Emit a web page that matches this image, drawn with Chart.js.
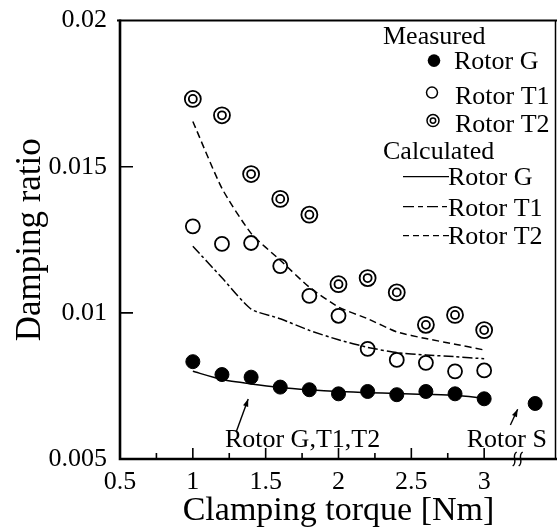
<!DOCTYPE html>
<html>
<head>
<meta charset="utf-8">
<script src="https://cdn.jsdelivr.net/npm/chart.js@4.4.1/dist/chart.umd.min.js"></script>
<style>
  html, body { margin: 0; padding: 0; background: #fff; }
  #wrap { width: 557px; height: 531px; }
</style>
</head>
<body>
<div id="wrap"><canvas id="myChart" width="557" height="531"></canvas></div>
<script>
/** DATA **/
const torque = [1.0, 1.2, 1.4, 1.6, 1.8, 2.0, 2.2, 2.4, 2.6, 2.8, 3.0];
const measuredG  = [0.00833, 0.00789, 0.00780, 0.00746, 0.00737, 0.00723, 0.00731, 0.00720, 0.00731, 0.00723, 0.00706];
const measuredT1 = [0.01296, 0.01236, 0.01239, 0.01160, 0.01058, 0.00990, 0.00877, 0.00839, 0.00829, 0.00800, 0.00803];
const measuredT2 = [0.01732, 0.01676, 0.01475, 0.01390, 0.01336, 0.01098, 0.01119, 0.01070, 0.00959, 0.00993, 0.00941];
const calcG  = [0.00800, 0.00772, 0.00757, 0.00745, 0.00737, 0.00731, 0.00727, 0.00724, 0.00721, 0.00718, 0.00708];
const calcT1 = [0.01228, 0.01120, 0.01013, 0.00980, 0.00940, 0.00908, 0.00882, 0.00864, 0.00856, 0.00850, 0.00843];
const calcT2 = [0.01655, 0.01426, 0.01272, 0.01180, 0.01088, 0.01020, 0.00980, 0.00935, 0.00912, 0.00893, 0.00873];
const rotorSTorque = [3.35];
const rotorSDamping = [0.0069];
const xMajor = [1, 1.5, 2, 2.5, 3];
const xMinor = [0.75, 1.25, 1.75, 2.25, 2.75];
const yMajor = [0.01, 0.015];

const serif = "'Liberation Serif', 'Times New Roman', serif";
const pts = (xs, ys) => xs.map((x, i) => ({ x: x, y: ys[i] }));

const dashT1 = [10, 3, 3, 3];
const dashT2 = [7, 4];

/** DECOR: axes box, inward ticks, legend, notes **/
const decor = {
  id: 'decor',
  afterDraw(chart) {
    const ctx = chart.ctx;
    const a = chart.chartArea;
    const xs = chart.scales.x, ys = chart.scales.y;
    ctx.save();
    ctx.strokeStyle = '#000';
    ctx.fillStyle = '#000';
    ctx.lineCap = 'butt';

    // box
    ctx.lineWidth = 2.6;
    ctx.beginPath();
    ctx.moveTo(a.left, a.top - 1); ctx.lineTo(a.left, a.bottom);
    ctx.lineTo(a.right, a.bottom);
    ctx.stroke();
    ctx.lineWidth = 2;
    ctx.beginPath();
    ctx.moveTo(a.left - 3, a.top); ctx.lineTo(a.right, a.top);
    ctx.stroke();
    ctx.lineWidth = 1.5;
    ctx.beginPath();
    ctx.moveTo(a.right - 1.5, a.top); ctx.lineTo(a.right - 1.5, a.bottom);
    ctx.stroke();

    // ticks
    ctx.lineWidth = 1.6;
    ctx.beginPath();
    xMajor.forEach(v => { const p = xs.getPixelForValue(v); ctx.moveTo(p, a.bottom); ctx.lineTo(p, a.bottom - 11); });
    xMinor.forEach(v => { const p = xs.getPixelForValue(v); ctx.moveTo(p, a.bottom); ctx.lineTo(p, a.bottom - 6); });
    yMajor.forEach(v => { const p = ys.getPixelForValue(v); ctx.moveTo(a.left, p); ctx.lineTo(a.left + 13, p); });
    ctx.stroke();

    // axis break
    const bx = xs.getPixelForValue(3.23);
    ctx.lineWidth = 1.4;
    [-3, 3].forEach(d => {
      ctx.beginPath();
      ctx.moveTo(bx + d + 2, a.bottom - 7);
      ctx.bezierCurveTo(bx + d - 4, a.bottom - 3, bx + d + 4, a.bottom + 3, bx + d - 2, a.bottom + 7);
      ctx.stroke();
    });

    // legend
    const lx = a.right - 174, ly = a.top;
    ctx.font = '26px ' + serif;
    ctx.textBaseline = 'alphabetic';
    ctx.textAlign = 'left';
    ctx.fillText('Measured', lx, ly + 23);
    ctx.beginPath(); ctx.arc(lx + 51, ly + 40, 6.3, 0, Math.PI * 2); ctx.fill();
    ctx.fillText('Rotor G', lx + 71, ly + 48);
    ctx.lineWidth = 1.5;
    ctx.beginPath(); ctx.arc(lx + 49, ly + 72, 5.5, 0, Math.PI * 2); ctx.stroke();
    ctx.fillText('Rotor T1', lx + 72, ly + 83);
    ctx.beginPath(); ctx.arc(lx + 50, ly + 100, 6, 0, Math.PI * 2); ctx.stroke();
    ctx.beginPath(); ctx.arc(lx + 50, ly + 100, 2.7, 0, Math.PI * 2); ctx.stroke();
    ctx.fillText('Rotor T2', lx + 72, ly + 111);
    ctx.fillText('Calculated', lx, ly + 138);
    const legLine = (y, dash) => {
      ctx.setLineDash(dash);
      ctx.beginPath(); ctx.moveTo(lx + 20, y); ctx.lineTo(lx + 66, y); ctx.stroke();
      ctx.setLineDash([]);
    };
    ctx.lineWidth = 1.3;
    legLine(ly + 156, []);
    ctx.fillText('Rotor G', lx + 65, ly + 164);
    legLine(ly + 186, [11, 4, 5, 4]);
    ctx.fillText('Rotor T1', lx + 65, ly + 195);
    legLine(ly + 215, [6, 4]);
    ctx.fillText('Rotor T2', lx + 65, ly + 223);

    // notes with arrows
    const arrow = (x1, y1, x2, y2) => {
      ctx.lineWidth = 1.4;
      ctx.beginPath(); ctx.moveTo(x1, y1); ctx.lineTo(x2, y2); ctx.stroke();
      const ang = Math.atan2(y2 - y1, x2 - x1);
      ctx.beginPath();
      ctx.moveTo(x2, y2);
      ctx.lineTo(x2 - 8 * Math.cos(ang - 0.35), y2 - 8 * Math.sin(ang - 0.35));
      ctx.lineTo(x2 - 8 * Math.cos(ang + 0.35), y2 - 8 * Math.sin(ang + 0.35));
      ctx.closePath(); ctx.fill();
    };
    ctx.fillText('Rotor G,T1,T2', xs.getPixelForValue(1.22), a.bottom - 12);
    arrow(xs.getPixelForValue(1.3), a.bottom - 28, xs.getPixelForValue(1.38), ys.getPixelForValue(0.00705));
    ctx.fillText('Rotor S', xs.getPixelForValue(2.88), a.bottom - 12);
    arrow(xs.getPixelForValue(3.18), a.bottom - 34, xs.getPixelForValue(3.23), ys.getPixelForValue(0.0067));
    ctx.restore();
  }
};

const data = {
  datasets: [
    {
      label: 'Measured Rotor G',
      data: pts(torque, measuredG).concat(pts(rotorSTorque, rotorSDamping)),
      pointRadius: 7,
      backgroundColor: '#000',
      borderColor: '#000',
      showLine: false
    },
    {
      label: 'Measured Rotor T1',
      data: pts(torque, measuredT1),
      pointRadius: 7,
      pointBorderWidth: 1.8,
      backgroundColor: 'rgba(0,0,0,0)',
      borderColor: '#000',
      showLine: false
    },
    {
      label: 'Measured Rotor T2',
      data: pts(torque, measuredT2),
      pointRadius: 8,
      pointBorderWidth: 1.8,
      backgroundColor: 'rgba(0,0,0,0)',
      borderColor: '#000',
      showLine: false
    },
    {
      label: 'Measured Rotor T2 (inner)',
      data: pts(torque, measuredT2),
      pointRadius: 4,
      pointBorderWidth: 1.8,
      backgroundColor: 'rgba(0,0,0,0)',
      borderColor: '#000',
      showLine: false
    },
    {
      label: 'Calculated Rotor G',
      data: pts(torque, calcG),
      showLine: true,
      pointRadius: 0,
      borderColor: '#000',
      borderWidth: 1.5,
      tension: 0.2
    },
    {
      label: 'Calculated Rotor T1',
      data: pts(torque, calcT1),
      showLine: true,
      pointRadius: 0,
      borderColor: '#000',
      borderWidth: 1.5,
      borderDash: dashT1,
      tension: 0.2
    },
    {
      label: 'Calculated Rotor T2',
      data: pts(torque, calcT2),
      showLine: true,
      pointRadius: 0,
      borderColor: '#000',
      borderWidth: 1.5,
      borderDash: dashT2,
      tension: 0.2
    }
  ]
};

const config = {
  type: 'scatter',
  data,
  options: {
    responsive: false,
    animation: false,
    devicePixelRatio: 1,
    layout: { autoPadding: false, padding: { top: 17, right: 0, left: 0, bottom: 0 } },
    plugins: { legend: { display: false }, tooltip: { enabled: false } },
    scales: {
      x: {
        type: 'linear',
        min: 0.5,
        max: 3.5,
        grid: { display: false },
        border: { display: false },
        ticks: {
          stepSize: 0.5,
          autoSkip: false,
          maxRotation: 0,
          padding: 0,
          color: '#000',
          font: { family: serif, size: 26 },
          callback: v => (v > 3 ? '' : String(v))
        },
        title: {
          display: true,
          text: 'Clamping torque [Nm]',
          color: '#000',
          font: { family: serif, size: 34 },
          padding: { top: 0, bottom: 0 }
        },
        afterFit: s => { s.height = 72; }
      },
      y: {
        min: 0.005,
        max: 0.02,
        grid: { display: false },
        border: { display: false },
        ticks: {
          stepSize: 0.005,
          autoSkip: false,
          padding: 5,
          color: '#000',
          font: { family: serif, size: 26 },
          callback: v => String(+v.toFixed(3))
        },
        title: {
          display: true,
          text: 'Damping ratio',
          color: '#000',
          font: { family: serif, size: 35 },
          padding: { top: 10, bottom: 0 }
        },
        afterFit: s => { s.width = 120; }
      }
    }
  },
  plugins: [decor]
};

var myChart = new Chart(document.getElementById('myChart'), config);
</script>
</body>
</html>
